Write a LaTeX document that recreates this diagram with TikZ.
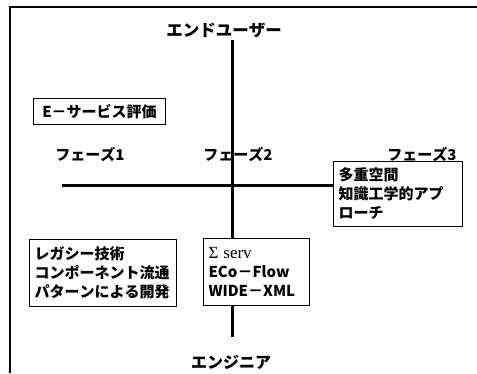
\documentclass[tikz,border=0pt]{standalone}
\usepackage{fontspec}
\newfontfamily\jp[Kerning=Off]{Noto Sans CJK JP}
\newfontfamily\sigmafont{Liberation Serif}
\tikzset{
  lbl/.style={font=\jp\bfseries\fontsize{15}{19}\selectfont, inner sep=0pt},
  tbox/.style={draw, line width=1pt, fill=white, align=left, anchor=north west,
    font=\jp\bfseries\fontsize{15}{19}\selectfont, inner xsep=5pt, inner ysep=3pt},
  axis/.style={line width=3pt},
}
\begin{document}
\begin{tikzpicture}[x=1pt,y=-1pt]
\useasboundingbox (0,0) rectangle (477,373);
% frame
\coordinate (f1) at (10,373);
\coordinate (f2) at (10,7);
\coordinate (f3) at (477,7);
\draw[line width=1.5pt] (f1) -- (f2) -- (f3);
% axes
\coordinate (vtop) at (232,40);
\coordinate (vbot) at (232,337);
\coordinate (hl) at (62,185);
\draw[axis] (vtop) -- (vbot);
% labels
\node[lbl, font=\jp\bfseries\fontsize{16.5}{19}\selectfont] (eu) at (224,30) {エンドユーザー};
\node[lbl, font=\jp\bfseries\fontsize{16}{19}\selectfont] (en) at (231,362) {エンジニア};
\node[lbl] (p1) at (90,155) {フェーズ1};
\node[lbl] (p2) at (238,155) {フェーズ2};
\node[lbl] (p3) at (422,155) {フェーズ3};
% boxes
\node[draw, line width=1pt, font=\jp\bfseries\fontsize{15}{19}\selectfont, inner xsep=4pt, inner ysep=3pt, minimum height=26pt, minimum width=132pt, anchor=north west] (es) at (33,98) {E－サービス評価};
\node[tbox, text width=119pt, minimum height=65pt] (rb) at (333,161) {多重空間\\知識工学的アプ\\ローチ};
\draw[axis] (hl) -- (hl -| rb.west);
\node[tbox, text width=96pt, minimum height=67pt] (mb) at (203,238) {{\sigmafont\fontseries{m}\selectfont\fontsize{17}{19}\selectfont Σ serv}\\ECo－Flow\\WIDE－XML};
\node[tbox, text width=137pt, minimum height=67pt] (lb) at (29,239) {レガシー技術\\コンポーネント流通\\パターンによる開発};
\end{tikzpicture}
\end{document}
